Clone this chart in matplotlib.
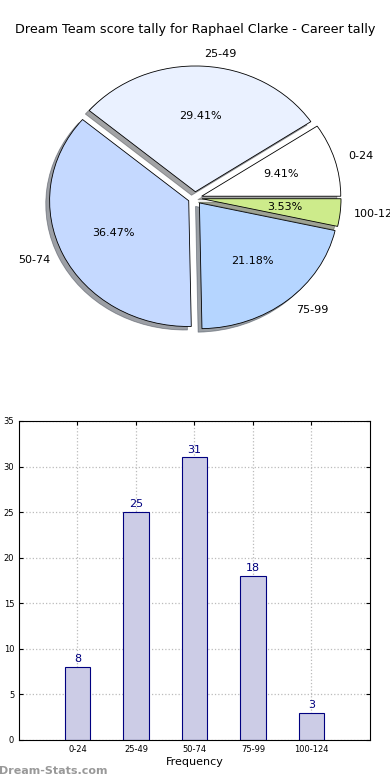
import matplotlib
matplotlib.use("Agg")
import matplotlib.pyplot as plt

categories = ["0-24", "25-49", "50-74", "75-99", "100-124"]
counts = [8, 25, 31, 18, 3]
pie_colors = ["#FFFFFF", "#EAF1FF", "#C5D9FF", "#B5D5FF", "#CDEB8B"]
title = "Dream Team score tally for Raphael Clarke - Career tally"

fig = plt.figure(figsize=(3.9, 7.8), dpi=100)

# pie (stretched, not equal aspect)
ax1 = fig.add_axes([0.072, 0.5526, 0.856, 0.387])
wedges, texts, autotexts = ax1.pie(
    counts, labels=categories, colors=pie_colors, autopct="%.2f%%",
    explode=[0.05] * len(counts),
    shadow={"ox": -0.02, "oy": -0.02, "shade": 0.7}, startangle=0,
    wedgeprops={"edgecolor": "black", "linewidth": 0.6},
    textprops={"fontsize": 8})
ax1.set_aspect("auto")
ax1.set_xlim(-1.2, 1.2)
ax1.set_ylim(-1.2, 1.2)
ax1.axis("off")
fig.text(0.5, 1 - 30 / 780, title, ha="center", va="center", fontsize=9.2)

# bar chart
ax2 = fig.add_axes([0.0487, 0.0513, 0.9, 0.409])
x = range(len(categories))
bars = ax2.bar(x, counts, width=0.44, color="#CCCCE6", edgecolor="navy",
               linewidth=0.8, zorder=2)
for xi, c in zip(x, counts):
    ax2.text(xi, c + 0.3, str(c), ha="center", va="bottom",
             color="navy", fontsize=8)
ax2.set_xlim(-1, 5)
ax2.set_ylim(0, 35)
ax2.set_xticks(list(x))
ax2.set_xticklabels(categories)
ax2.set_yticks(range(0, 36, 5))
ax2.tick_params(labelsize=6, direction="in", top=True, right=True, length=3)
ax2.grid(True, linestyle=":", color="#BBBBBB", linewidth=0.9, zorder=0)
ax2.set_xlabel("Frequency", fontsize=8, labelpad=2)
ax2.set_ylabel("Score Intervals", fontsize=8, labelpad=4)

fig.text(-0.003, 1 - 771 / 780, "Dream-Stats.com", ha="left", va="center",
         fontsize=8, color="#999999", fontweight="bold")

fig.savefig("out.png", dpi=100)
